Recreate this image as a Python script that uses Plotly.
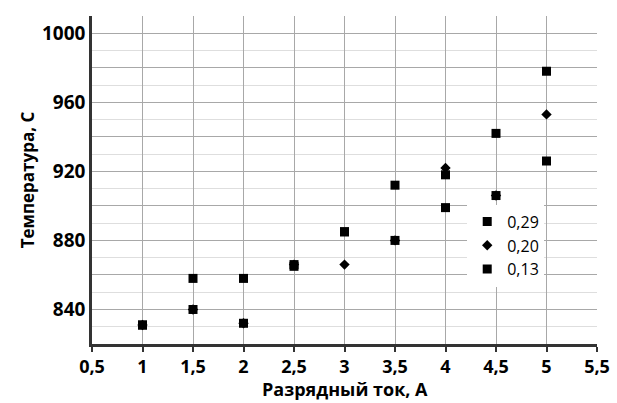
import plotly.graph_objects as go

current = [1, 1.5, 2, 2.5, 3, 3.5, 4, 4.5, 5]
t_029 = [831, 858, 858, 866, 885, 912, 918, 942, 978]
t_020 = [831, 840, 832, 866, 866, 880, 922, 906, 953]
t_013 = [831, 840, 832, 865, 885, 880, 899, 906, 926]
series_names = ["0,29", "0,20", "0,13"]
x_title = "Разрядный ток, А"
y_title = "Температура, С"

x_ticks = [0.5, 1, 1.5, 2, 2.5, 3, 3.5, 4, 4.5, 5, 5.5]
x_ticktext = ["0,5", "1", "1,5", "2", "2,5", "3", "3,5", "4", "4,5", "5", "5,5"]
y_ticks = [820, 840, 860, 880, 900, 920, 940, 960, 980, 1000]
y_ticktext = ["", "840", "", "880", "", "920", "", "960", "", "1000"]

fig = go.Figure()
fig.add_trace(go.Scatter(x=current, y=t_029, mode="markers", name=series_names[0],
                         marker=dict(symbol="square", size=9, color="black")))
fig.add_trace(go.Scatter(x=current, y=t_020, mode="markers", name=series_names[1],
                         marker=dict(symbol="diamond", size=8, color="black")))
fig.add_trace(go.Scatter(x=current, y=t_013, mode="markers", name=series_names[2],
                         marker=dict(symbol="square", size=9, color="black")))

font = "Open Sans"
fig.update_layout(
    width=617, height=403,
    margin=dict(l=92, r=20, t=16, b=59, autoexpand=False),
    paper_bgcolor="white", plot_bgcolor="white",
    font=dict(family=font, color="black"),
    legend=dict(x=0.743, y=0.30, xanchor="left", yanchor="middle",
                bgcolor="white", font=dict(size=16, family=font),
                itemwidth=30, tracegroupgap=0),
    xaxis=dict(
        range=[0.5, 5.5], tickvals=x_ticks, ticktext=x_ticktext,
        tickfont=dict(size=18, family=font, weight="bold"),
        showgrid=True, gridcolor="#a8a8a8", gridwidth=1,
        showline=True, linecolor="#333333", linewidth=2.5,
        ticks="outside", ticklen=5, tickcolor="#333333", tickwidth=1.5,
        zeroline=False, automargin=False,
    ),
    yaxis=dict(
        range=[820, 1010], tickvals=y_ticks, ticktext=y_ticktext,
        tickfont=dict(size=19, family=font, weight="bold"),
        showgrid=True, gridcolor="#a8a8a8", gridwidth=1,
        minor=dict(dtick=10, showgrid=True, gridcolor="#dedede", gridwidth=1),
        showline=True, linecolor="#333333", linewidth=2.5,
        ticks="", zeroline=False, automargin=False,
        title=dict(text=y_title, font=dict(size=17, family=font, weight="bold"), standoff=4),
    ),
    annotations=[dict(text=x_title, xref="paper", yref="paper", x=0.5, y=0,
                      xanchor="center", yanchor="middle", yshift=-45, showarrow=False,
                      font=dict(size=18, family=font, weight="bold"))],
)

fig.write_html("out.html", config={"displayModeBar": False},
               post_script="document.body.style.margin='0';document.body.style.overflow='hidden';")
